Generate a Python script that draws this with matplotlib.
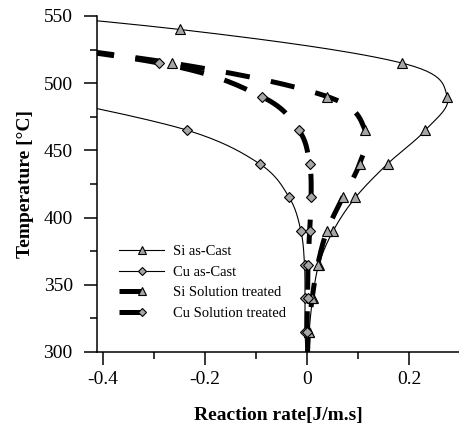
import numpy as np
import matplotlib
matplotlib.use("Agg")
import matplotlib.pyplot as plt
from matplotlib.ticker import FixedLocator, FuncFormatter

plt.rcParams['font.family'] = ['Liberation Serif', 'DejaVu Serif']
plt.rcParams['lines.scale_dashes'] = False

# reaction rate [J/m.s] against temperature [C], one point every 25 C
si_cast_T = [565, 540, 515, 490, 465, 440, 415, 390, 365, 340, 315, 290]
si_cast_x = [-0.95, -0.25, 0.186, 0.275, 0.232, 0.158, 0.095, 0.051, 0.023, 0.011, 0.004, 0.0]

cu_cast_T = [490, 465, 440, 415, 390, 365, 340, 315, 290]
cu_cast_x = [-0.52, -0.235, -0.093, -0.035, -0.012, -0.005, -0.004, -0.004, 0.0]

si_sol_T = [540, 515, 490, 465, 440, 415, 390, 365, 340, 315, 290]
si_sol_x = [-0.78, -0.265, 0.04, 0.114, 0.103, 0.07, 0.039, 0.021, 0.01, 0.003, 0.0]

cu_sol_T = [540, 515, 490, 465, 440, 415, 390, 365, 340, 315, 290]
cu_sol_x = [-0.78, -0.29, -0.089, -0.016, 0.005, 0.008, 0.005, 0.002, 0.001, 0.0, 0.0]

x_ticks = [-0.4, -0.2, 0, 0.2]
y_ticks = [300, 350, 400, 450, 500, 550]

fig = plt.figure(figsize=(4.6, 4.28), dpi=100)
ax = fig.add_axes([97/460, 1 - 352/428, 363/460, 336/428])
ax.set_xlim(-0.412, 0.3)
ax.set_ylim(300, 550)


def smooth(ax, xs, ys, n=30):
    # spreadsheet-style smoothed line (Catmull-Rom) done in screen space
    pts = ax.transData.transform(np.column_stack([xs, ys]))
    p = np.vstack([pts[0], pts, pts[-1]])
    t = np.linspace(0, 1, n)[:, None]
    out = []
    for i in range(1, len(p) - 2):
        p0, p1, p2, p3 = p[i - 1], p[i], p[i + 1], p[i + 2]
        seg = 0.5 * (2 * p1 + (-p0 + p2) * t + (2 * p0 - 5 * p1 + 4 * p2 - p3) * t ** 2
                     + (-p0 + 3 * p1 - 3 * p2 + p3) * t ** 3)
        out.append(seg if i == 1 else seg[1:])
    out = ax.transData.inverted().transform(np.vstack(out))
    return out[:, 0], out[:, 1]


grey = '#a6a6a6'
thick_dash = (0, (17.5, 15.5))
series = [
    (si_cast_x, si_cast_T, '^', 7.5, 0.8, '-', 'Si as-Cast'),
    (cu_cast_x, cu_cast_T, 'D', 5.5, 0.8, '-', 'Cu as-Cast'),
    (si_sol_x, si_sol_T, '^', 7.5, 3.6, thick_dash, 'Si Solution treated'),
    (cu_sol_x, cu_sol_T, 'D', 5.5, 3.6, thick_dash, 'Cu Solution treated'),
]
handles = []
for xs, ys, mk, ms, lw, ls, lab in series:
    sx, sy = smooth(ax, xs, ys)
    ax.plot(sx, sy, color='black', lw=lw, linestyle=ls, zorder=2)
    ax.plot(xs, ys, linestyle='none', marker=mk, ms=ms, mfc=grey, mec='black',
            mew=0.8, zorder=3)
    h, = ax.plot([], [], color='black', lw=lw, linestyle=ls, marker=mk, ms=ms,
                 mfc=grey, mec='black', mew=0.8, label=lab)
    handles.append(h)

ax.legend(handles=handles, loc='upper left', bbox_to_anchor=(0.025, 0.357),
          frameon=False, fontsize=10.5, handlelength=3.1, handletextpad=0.6,
          labelspacing=0.5, markerscale=0.75)

for side in ['top', 'right']:
    ax.spines[side].set_visible(False)
for side in ['left', 'bottom']:
    ax.spines[side].set_linewidth(1.1)

ax.xaxis.set_major_locator(FixedLocator(x_ticks))
ax.xaxis.set_minor_locator(FixedLocator([-0.3, -0.1, 0.1]))
ax.xaxis.set_major_formatter(FuncFormatter(lambda v, p: '%g' % round(v, 2)))
ax.yaxis.set_major_locator(FixedLocator(y_ticks))
ax.yaxis.set_minor_locator(FixedLocator([325, 375, 425, 475, 525]))

ax.tick_params(which='major', direction='out', length=9.5, width=1.1, labelsize=14)
ax.tick_params(which='minor', direction='out', length=5, width=1.1)
ax.tick_params(axis='y', which='major', pad=8)
ax.tick_params(axis='x', which='major', pad=4)

ax.set_xlabel('Reaction rate[J/m.s]', fontsize=14, fontweight='bold', labelpad=14)
ax.set_ylabel('Temperature [°C]', fontsize=14, fontweight='bold', labelpad=7)

fig.savefig('out.png', dpi=100)
